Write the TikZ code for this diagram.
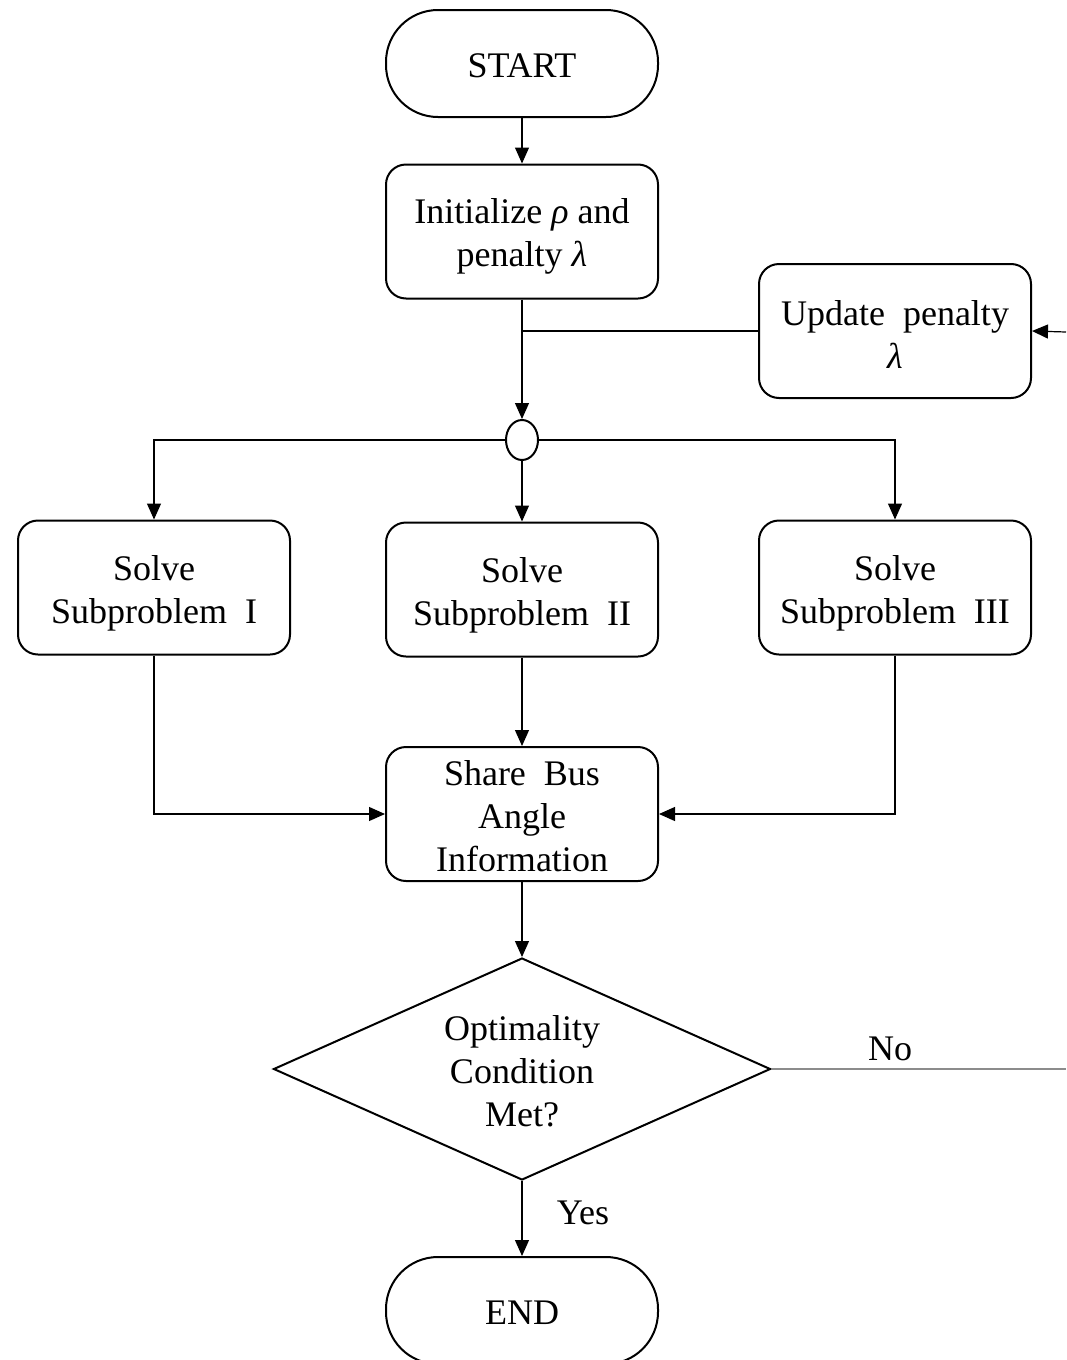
\documentclass[tikz,border=0pt]{standalone}
\usepackage{fontspec}
\setmainfont{Liberation Serif}
\usepackage{xcolor}
\colorlet{BoxBorder}{black}
\colorlet{NoBranch}{black!45}
\usetikzlibrary{shapes.geometric, arrows.meta}

% Puntal invisible para bajar un poco el texto dentro de las cajas.
\newcommand{\padline}[1]{\rule{0pt}{#1}}

\tikzset{
  flowbox/.style={draw=BoxBorder, line width=2pt, rounded corners=20pt,
    minimum width=272pt, minimum height=134pt, align=center, inner sep=0pt},
  terminal/.style={flowbox, rounded corners=52pt, minimum height=107pt},
  decision/.style={draw=BoxBorder, diamond, line width=2pt, aspect=2.24,
    minimum width=497pt, minimum height=222pt, align=center, inner sep=0pt},
  junction/.style={draw=BoxBorder, ellipse, line width=2pt,
    minimum width=32pt, minimum height=40pt, inner sep=0pt},
  link/.style={line width=1.2pt},
  flow/.style={link, -{Triangle[length=16pt, width=14pt]}},
}

\begin{document}
\begin{tikzpicture}[x=1pt, y=-1pt, font=\fontsize{36}{43}\selectfont]

\useasboundingbox (0, 0) rectangle (1066, 1360);

\node[terminal] (start) at (522, 63.5) {\padline{28pt}START};
\node[flowbox] (init) at (522, 231.5) {\padline{35pt}Initialize \textit{ρ} and\\penalty \textit{λ}};
\node[flowbox] (update) at (895, 331) {\padline{31pt}Update~~penalty\\\textit{λ}};
\node[junction] (split) at (522, 440) {};

\node[flowbox] (subA) at (154, 587.5) {\padline{37pt}Solve\\Subproblem~~I};
\node[flowbox] (subB) at (522, 589.5) {\padline{37pt}Solve\\Subproblem~~II};
\node[flowbox] (subC) at (895, 587.5) {\padline{37pt}Solve\\Subproblem~~III};

\node[flowbox] (share) at (522, 814) {\padline{29pt}Share~~Bus\\Angle\\Information};
\node[decision] (check) at (522, 1069) {\padline{29pt}Optimality\\Condition\\Met?};
\node[terminal] (stop) at (522, 1310.5) {\padline{28pt}END};

% Extremos sueltos del lazo de retorno, en el borde derecho.
\coordinate (loopIn) at (1066, 332);
\coordinate (noOut) at (1066, 1069);

\draw[flow] (start) -- (init);
\draw[flow] (init) -- (split);
\draw[link] (update.west) -- (init.south |- update.west);
\draw[flow] (loopIn) -- (update.east);

\draw[flow] (split.west) -| (subA.north);
\draw[flow] (split) -- (subB);
\draw[flow] (split.east) -| (subC.north);

\draw[flow] (subA.south) |- (share.west);
\draw[flow] (subB) -- (share);
\draw[flow] (subC.south) |- (share.east);

\draw[flow] (share) -- (check);
\draw[link, draw=NoBranch, line width=1.6pt] (check.east) -- (noOut);
\draw[flow] (check) -- (stop);

\node (noLabel) at (890, 1049) {No};
\node (yesLabel) at (583, 1213) {Yes};

\end{tikzpicture}
\end{document}
